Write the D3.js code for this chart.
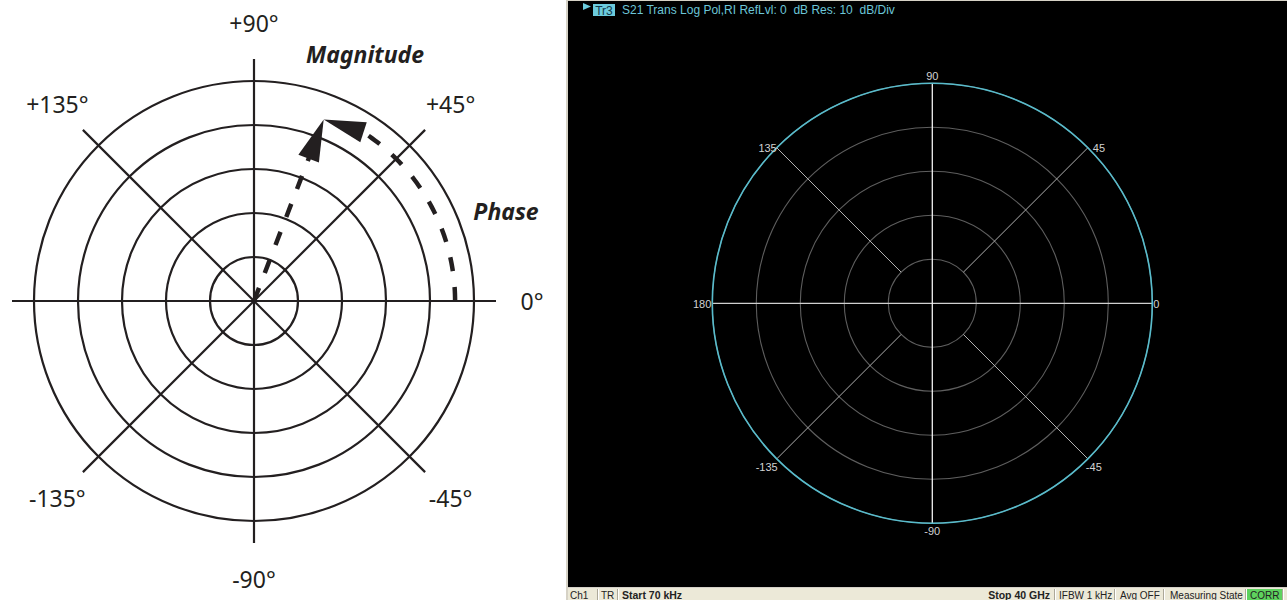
<!DOCTYPE html>
<html>
<head>
<meta charset="utf-8">
<script src="https://cdn.jsdelivr.net/npm/d3@7"></script>
<style>
  html, body { margin: 0; padding: 0; background: #fff; overflow: hidden; }
  svg { display: block; }
  text { white-space: pre; }
</style>
</head>
<body>
<svg id="chart" width="1287" height="600"></svg>
<script>
// ---- Polar concept diagram (left) ----
const conceptRings = [1, 2, 3, 4, 5];                 // magnitude rings
const conceptSpokeAngles = [0, 45, 90, 135];          // lines through the centre
const conceptLabelAngles = [90, 135, 45, 0, -45, -135, -90];
const conceptLabelTexts = ["+90°", "+135°", "+45°", "0°", "-45°", "-135°", "-90°"];
const vectorMagnitude = 4.42;   // in ring units
const vectorPhase = 69;         // degrees
const phaseArcRadius = 4.57;    // ring units
const phaseArcEnd = 57;         // degrees, where the phase arrowhead starts
const conceptTitles = ["Magnitude", "Phase"];

// ---- Network analyzer polar display (right) ----
const refLevelDb = 0;
const dbPerDiv = 10;
const polarDivisions = 5;
const gridRingsDb = [-40, -30, -20, -10, 0];
const analyzerAxisAngles = [0, 90];
const analyzerDiagonalAngles = [45, 135, -135, -45];
const analyzerLabelAngles = [90, 135, 180, -135, -90, -45, 0, 45];
const analyzerLabelTexts = ["90", "135", "180", "-135", "-90", "-45", "0", "45"];
const traceMagnitudeDb = 0;      // S21 trace sits on the reference circle
const headerTrace = "Tr3";
const headerText = "S21 Trans Log Pol,RI RefLvl: 0  dB Res: 10  dB/Div";
const statusLabels = ["Ch1", "TR", "Start 70 kHz", "Stop 40 GHz", "IFBW 1 kHz", "Avg OFF", "Measuring State", "CORR"];

const svg = d3.select("#chart");
const rad = d => d * Math.PI / 180;

// ================= left diagram =================
const L = { cx: 254, cy: 301 };
const rL = d3.scaleLinear().domain([0, 5]).range([0, 220]);
const ptL = (r, a) => [L.cx + rL(r) * Math.cos(rad(a)), L.cy - rL(r) * Math.sin(rad(a))];
const ink = "#231f20";
const left = svg.append("g");

left.selectAll("circle.ring").data(conceptRings).join("circle")
  .attr("cx", L.cx).attr("cy", L.cy).attr("r", d => rL(d))
  .attr("fill", "none").attr("stroke", ink).attr("stroke-width", 2.2);

const spokeLen = 5.5;
left.selectAll("line.spoke").data(conceptSpokeAngles).join("line")
  .attr("x1", d => ptL(spokeLen, d)[0]).attr("y1", d => ptL(spokeLen, d)[1])
  .attr("x2", d => ptL(spokeLen, d + 180)[0]).attr("y2", d => ptL(spokeLen, d + 180)[1])
  .attr("stroke", ink).attr("stroke-width", 2.2);

const labelR = 6.32;
left.selectAll("text.ang").data(conceptLabelAngles).join("text")
  .attr("x", d => ptL(labelR, d)[0]).attr("y", d => ptL(labelR, d)[1])
  .attr("text-anchor", "middle").attr("dominant-baseline", "central")
  .attr("font-family", "'Noto Sans', sans-serif").attr("font-size", 23)
  .attr("fill", ink)
  .text((d, i) => conceptLabelTexts[i]);

// arrowhead polygon from base centre to tip
function arrowHead(base, tip, halfW) {
  const dx = tip[0] - base[0], dy = tip[1] - base[1];
  const len = Math.hypot(dx, dy);
  const nx = -dy / len, ny = dx / len;
  return [tip, [base[0] + nx * halfW, base[1] + ny * halfW], [base[0] - nx * halfW, base[1] - ny * halfW]];
}

const tip = ptL(vectorMagnitude, vectorPhase);
// magnitude vector
const headLen = 42;
const ux = (tip[0] - L.cx) / rL(vectorMagnitude), uy = (tip[1] - L.cy) / rL(vectorMagnitude);
const magBase = [tip[0] - ux * headLen, tip[1] - uy * headLen];
left.append("line")
  .attr("x1", L.cx).attr("y1", L.cy).attr("x2", magBase[0] + ux * 2).attr("y2", magBase[1] + uy * 2)
  .attr("stroke", ink).attr("stroke-width", 4.5).attr("stroke-dasharray", "14 16");
left.append("polygon")
  .attr("points", arrowHead(magBase, tip, 11).map(p => p.join(",")).join(" "))
  .attr("fill", ink);

// phase arc
const arcAngles = d3.range(0, phaseArcEnd + 0.5, 1);
const arcLine = d3.line().x(a => ptL(phaseArcRadius, a)[0]).y(a => ptL(phaseArcRadius, a)[1]);
left.append("path").attr("d", arcLine(arcAngles))
  .attr("fill", "none").attr("stroke", ink).attr("stroke-width", 4.5).attr("stroke-dasharray", "14 16");
const phaseBase = ptL(phaseArcRadius, phaseArcEnd);
left.append("polygon")
  .attr("points", arrowHead(phaseBase, tip, 10.5).map(p => p.join(",")).join(" "))
  .attr("fill", ink);

const titleFont = "'Noto Sans', sans-serif";
left.append("text").attr("x", 365).attr("y", 63).attr("text-anchor", "middle")
  .attr("font-family", titleFont).attr("font-size", 23).attr("font-weight", "bold").attr("font-style", "italic")
  .attr("fill", ink).text(conceptTitles[0]);
left.append("text").attr("x", 506).attr("y", 220).attr("text-anchor", "middle")
  .attr("font-family", titleFont).attr("font-size", 23).attr("font-weight", "bold").attr("font-style", "italic")
  .attr("fill", ink).text(conceptTitles[1]);

// ================= right analyzer display =================
const right = svg.append("g");
const font = "'Liberation Sans', Arial, sans-serif";
right.append("rect").attr("x", 566).attr("y", 0).attr("width", 721).attr("height", 600).attr("fill", "#d6d2c6");
right.append("rect").attr("x", 568).attr("y", 1).attr("width", 719).attr("height", 586).attr("fill", "#000");

const R = { cx: 932.3, cy: 303.3 };
const rR = d3.scaleLinear().domain([refLevelDb - dbPerDiv * polarDivisions, refLevelDb]).range([0, 220]);
const ptR = (db, a) => [R.cx + rR(db) * Math.cos(rad(a)), R.cy - rR(db) * Math.sin(rad(a))];

right.selectAll("circle.grid").data(gridRingsDb).join("circle")
  .attr("cx", R.cx).attr("cy", R.cy).attr("r", d => rR(d))
  .attr("fill", "none").attr("stroke", "#5e5e5e").attr("stroke-width", 1.1);

right.selectAll("line.diag").data(analyzerDiagonalAngles).join("line")
  .attr("x1", d => ptR(gridRingsDb[0], d)[0]).attr("y1", d => ptR(gridRingsDb[0], d)[1])
  .attr("x2", d => ptR(refLevelDb, d)[0]).attr("y2", d => ptR(refLevelDb, d)[1])
  .attr("stroke", "#b0b0b0").attr("stroke-width", 1);

right.selectAll("line.axis").data(analyzerAxisAngles).join("line")
  .attr("x1", d => ptR(refLevelDb, d)[0]).attr("y1", d => ptR(refLevelDb, d)[1])
  .attr("x2", d => ptR(refLevelDb, d + 180)[0]).attr("y2", d => ptR(refLevelDb, d + 180)[1])
  .attr("stroke", d => d === 90 ? "#f2f2f2" : "#d0d0d0").attr("stroke-width", 1.3);

// measured trace
right.append("circle").attr("cx", R.cx).attr("cy", R.cy).attr("r", rR(traceMagnitudeDb))
  .attr("fill", "none").attr("stroke", "#58bccc").attr("stroke-width", 1.6);

// angle labels placed around the reference circle
function labelPos(a) {
  const p = ptR(refLevelDb, a);
  switch (a) {
    case 90: return { x: p[0], y: p[1] - 7, anchor: "middle" };
    case -90: return { x: p[0], y: p[1] + 8, anchor: "middle" };
    case 0: return { x: p[0] + 1, y: p[1] + 1, anchor: "start" };
    case 180: return { x: p[0] - 1, y: p[1] + 1, anchor: "end" };
    case 45: return { x: p[0] + 5, y: p[1], anchor: "start" };
    case 135: return { x: p[0], y: p[1], anchor: "end" };
    case -45: return { x: p[0] - 2, y: p[1] + 8, anchor: "start" };
    case -135: return { x: p[0] + 1, y: p[1] + 8, anchor: "end" };
  }
}
right.selectAll("text.alab").data(analyzerLabelAngles).join("text")
  .each(function (a, i) {
    const lp = labelPos(a);
    d3.select(this).attr("x", lp.x).attr("y", lp.y).attr("text-anchor", lp.anchor)
      .attr("dominant-baseline", "central").text(analyzerLabelTexts[i]);
  })
  .attr("font-family", font).attr("font-size", 11).attr("fill", "#d2d2d2");

// header line
right.append("polygon").attr("points", "583,3 591,6.5 583,10").attr("fill", "#6ccbdc");
right.append("rect").attr("x", 593).attr("y", 4).attr("width", 22).attr("height", 12).attr("fill", "#6ccbdc");
right.append("text").attr("x", 604).attr("y", 14.5).attr("text-anchor", "middle")
  .attr("font-family", font).attr("font-size", 12).attr("fill", "#123848").text(headerTrace);
right.append("text").attr("x", 622).attr("y", 14).attr("font-family", font).attr("font-size", 12)
  .attr("fill", "#6cc6d8").text(headerText);

// status bar
const bar = right.append("g");
bar.append("rect").attr("x", 568).attr("y", 587).attr("width", 719).attr("height", 13).attr("fill", "#ece9d8");
bar.append("line").attr("x1", 568).attr("x2", 1287).attr("y1", 587.5).attr("y2", 587.5).attr("stroke", "#d4d0c8");
const separators = [597.5, 617.5, 1054.5, 1114.5, 1163.5, 1245.5, 1282.5];
bar.append("rect").attr("x", 1246).attr("y", 589).attr("width", 36).attr("height", 11).attr("fill", "#5ed25e");
bar.selectAll("line.sep").data(separators).join("line")
  .attr("x1", d => d).attr("x2", d => d).attr("y1", 589).attr("y2", 600)
  .attr("stroke", "#aca899");
bar.selectAll("line.sepw").data(separators).join("line")
  .attr("x1", d => d + 1).attr("x2", d => d + 1).attr("y1", 589).attr("y2", 600)
  .attr("stroke", "#ffffff");
const statusLayout = [
  { x: 570, anchor: "start", bold: false },
  { x: 601, anchor: "start", bold: false },
  { x: 622, anchor: "start", bold: true },
  { x: 1050, anchor: "end", bold: true },
  { x: 1059, anchor: "start", bold: false },
  { x: 1120, anchor: "start", bold: false },
  { x: 1170, anchor: "start", bold: false },
  { x: 1250, anchor: "start", bold: false }
];
bar.selectAll("text.st").data(statusLabels).join("text")
  .attr("x", (d, i) => statusLayout[i].x).attr("y", 599)
  .attr("text-anchor", (d, i) => statusLayout[i].anchor)
  .attr("font-weight", (d, i) => statusLayout[i].bold ? "bold" : "normal")
  .attr("font-family", font).attr("font-size", (d, i) => statusLayout[i].bold ? 10.5 : 10)
  .attr("fill", "#222")
  .text(d => d);
</script>
</body>
</html>
